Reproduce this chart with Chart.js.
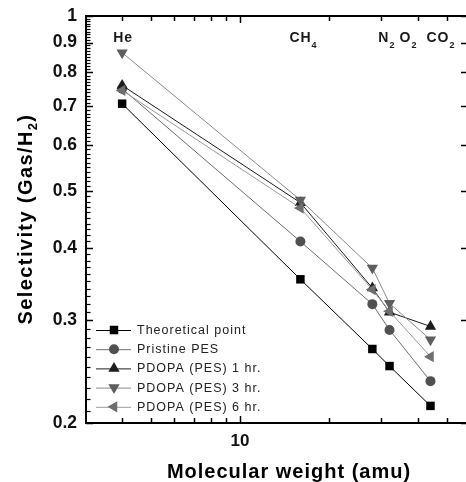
<!DOCTYPE html>
<html>
<head>
<meta charset="utf-8">
<script src="https://cdn.jsdelivr.net/npm/chart.js@4/dist/chart.umd.min.js"></script>
<style>
html,body{margin:0;padding:0;background:#fff;}
canvas{display:block;}
</style>
</head>
<body>
<canvas id="c" width="466" height="482"></canvas>
<script>
// ---- data ----
const gases = ['He', 'CH4', 'N2', 'O2', 'CO2'];
const molecularWeight = [4, 16, 28, 32, 44];
const theoretical = [0.707, 0.353, 0.268, 0.2505, 0.214];
const pristinePES = [0.75, 0.41, 0.32, 0.289, 0.236];
const pdopa1hr = [0.76, 0.478, 0.341, 0.31, 0.293];
const pdopa3hr = [0.865, 0.483, 0.369, 0.321, 0.278];
const pdopa6hr = [0.745, 0.468, 0.339, 0.311, 0.26];
const seriesNames = ['Theoretical point', 'Pristine PES', 'PDOPA (PES) 1 hr.', 'PDOPA (PES) 3 hr.', 'PDOPA (PES) 6 hr.'];
const yTickLabels = [0.2, 0.3, 0.4, 0.5, 0.6, 0.7, 0.8, 0.9, 1];
const xTickLabels = [10];
const xMinorTicks = [4, 5, 6, 7, 8, 9, 20, 30, 40, 50];

// ---- styles ----
const FONT = '"Liberation Sans", Arial, sans-serif';
const styles = [
  {point: 'rect', radius: 6, rot: 0, fill: '#000000', line: '#000000'},
  {point: 'circle', radius: 5, rot: 0, fill: '#505050', line: '#6e6e6e'},
  {point: 'triangle', radius: 6.5, rot: 0, fill: '#1c1c1c', line: '#1c1c1c'},
  {point: 'triangle', radius: 6.5, rot: 180, fill: '#5e5e5e', line: '#8a8a8a'},
  {point: 'triangle', radius: 6.5, rot: 270, fill: '#6e6e6e', line: '#9a9a9a'}
];
const allSeries = [theoretical, pristinePES, pdopa1hr, pdopa3hr, pdopa6hr];
const gasLabelOffset = [-9, -11, 6, 10, -4];

const datasets = allSeries.map((s, i) => ({
  label: seriesNames[i],
  data: s.map((v, j) => ({x: molecularWeight[j], y: v})),
  borderColor: styles[i].line,
  backgroundColor: styles[i].fill,
  pointBackgroundColor: styles[i].fill,
  pointBorderColor: styles[i].fill,
  pointBorderWidth: 0,
  pointStyle: styles[i].point,
  pointRadius: styles[i].radius,
  pointRotation: styles[i].rot,
  borderWidth: 1,
  tension: 0,
  fill: false,
  clip: false,
  order: allSeries.length - i
}));

function isLabelled(v, list) {
  return list.some(t => Math.abs(t - v) < 1e-6);
}

const customDraw = {
  id: 'customDraw',
  afterDatasetsDraw(chart) {
    const ctx = chart.ctx;
    const xs = chart.scales.x, ys = chart.scales.y;
    const a = chart.chartArea;
    ctx.save();
    // top border
    ctx.strokeStyle = '#000';
    ctx.lineWidth = 2;
    ctx.beginPath();
    ctx.moveTo(a.left - 1, a.top);
    ctx.lineTo(a.right + 2, a.top);
    ctx.stroke();
    // x ticks (bottom & top), inward
    ctx.lineWidth = 1.5;
    xs.ticks.forEach(t => {
      const px = Math.round(xs.getPixelForValue(t.value)) + 0.5;
      const len = isLabelled(t.value, xTickLabels) ? 7 : 5;
      ctx.beginPath();
      ctx.moveTo(px, a.bottom); ctx.lineTo(px, a.bottom - len);
      ctx.moveTo(px, a.top); ctx.lineTo(px, a.top + len);
      ctx.stroke();
    });
    // y ticks inward
    ys.ticks.forEach(t => {
      const py = Math.round(ys.getPixelForValue(t.value)) + 0.5;
      const major = isLabelled(t.value, yTickLabels);
      const len = major ? 7 : 4.5;
      ctx.lineWidth = major ? 1.5 : 1.2;
      ctx.beginPath();
      ctx.moveTo(a.left, py); ctx.lineTo(a.left + len, py);
      ctx.stroke();
      if (major) {
        ctx.beginPath();
        ctx.moveTo(a.right + 1, py); ctx.lineTo(a.right - 5, py);
        ctx.stroke();
      }
    });
    // gas labels
    ctx.fillStyle = '#1a1a1a';
    gases.forEach((g, i) => {
      const m = g.match(/^([A-Za-z]+)(\d*)$/);
      const main = m[1], sub = m[2];
      let x = xs.getPixelForValue(molecularWeight[i]) + gasLabelOffset[i];
      ctx.font = 'bold 14px ' + FONT;
      ctx.letterSpacing = '1px';
      ctx.textAlign = 'left';
      ctx.textBaseline = 'alphabetic';
      ctx.fillText(main, x, 42);
      x += ctx.measureText(main).width;
      if (sub) {
        ctx.font = 'bold 9px ' + FONT;
        ctx.letterSpacing = '0px';
        ctx.fillText(sub, x, 48);
      }
    });
    ctx.letterSpacing = '0px';
    // legend
    chart.data.datasets.forEach((ds, i) => {
      const y = 330 + i * 19.2;
      ctx.strokeStyle = ds.borderColor;
      ctx.lineWidth = 1;
      ctx.beginPath();
      ctx.moveTo(96, y + 0.5); ctx.lineTo(131, y + 0.5);
      ctx.stroke();
      ctx.fillStyle = ds.pointBackgroundColor;
      ctx.strokeStyle = ds.pointBorderColor;
      Chart.helpers.drawPoint(ctx, {pointStyle: ds.pointStyle, radius: ds.pointRadius, rotation: ds.pointRotation, borderWidth: 0}, 114, y);
      ctx.fillStyle = '#222';
      ctx.font = '12.5px ' + FONT;
      ctx.letterSpacing = '1px';
      ctx.textAlign = 'left';
      ctx.textBaseline = 'middle';
      ctx.fillText(ds.label, 137, y + 0.5);
      ctx.letterSpacing = '0px';
    });
    // axis titles
    ctx.fillStyle = '#000';
    ctx.font = 'bold 20px ' + FONT;
    ctx.letterSpacing = '1px';
    ctx.textAlign = 'center';
    ctx.textBaseline = 'alphabetic';
    ctx.fillText('Molecular weight (amu)', 289, 478);
    // y title with subscript
    ctx.translate(32, 219);
    ctx.rotate(-Math.PI / 2);
    const p1 = 'Selectivity (Gas/H', p2 = '2', p3 = ')';
    ctx.textAlign = 'left';
    ctx.letterSpacing = '1.4px';
    ctx.font = 'bold 20px ' + FONT;
    const w1 = ctx.measureText(p1).width, w3 = ctx.measureText(p3).width;
    ctx.font = 'bold 13px ' + FONT;
    const w2 = ctx.measureText(p2).width;
    let sx = -(w1 + w2 + w3) / 2;
    ctx.font = 'bold 20px ' + FONT;
    ctx.fillText(p1, sx, 0);
    ctx.font = 'bold 13px ' + FONT;
    ctx.fillText(p2, sx + w1, 5);
    ctx.font = 'bold 20px ' + FONT;
    ctx.fillText(p3, sx + w1 + w2, 0);
    ctx.restore();
  }
};

const yTicksAll = [];
for (let k = 20; k <= 100; k++) yTicksAll.push(k / 100);

new Chart(document.getElementById('c'), {
  type: 'line',
  data: {datasets},
  options: {
    responsive: false,
    devicePixelRatio: 1,
    animation: false,
    events: [],
    layout: {autoPadding: false, padding: {top: 16, right: 0, left: 0, bottom: 0}},
    plugins: {legend: {display: false}, tooltip: {enabled: false}, title: {display: false}},
    scales: {
      x: {
        type: 'logarithmic',
        min: 3.02,
        max: 58,
        afterBuildTicks(scale) {
          scale.ticks = xMinorTicks.concat(xTickLabels).sort((a, b) => a - b).map(v => ({value: v}));
        },
        afterFit(scale) { scale.height = 59; scale.paddingLeft = 0; scale.paddingRight = 0; },
        grid: {display: false, drawTicks: false},
        border: {display: true, color: '#000', width: 2},
        ticks: {
          autoSkip: false,
          maxRotation: 0,
          padding: 8,
          color: '#111',
          font: {family: FONT, size: 17, weight: 'bold'},
          callback: (v) => isLabelled(v, xTickLabels) ? String(v) : ''
        }
      },
      y: {
        type: 'logarithmic',
        min: 0.2,
        max: 1,
        afterBuildTicks(scale) {
          scale.ticks = yTicksAll.map(v => ({value: v}));
        },
        afterFit(scale) { scale.width = 86; scale.paddingTop = 0; scale.paddingBottom = 0; },
        grid: {display: false, drawTicks: false},
        border: {display: true, color: '#000', width: 2},
        ticks: {
          autoSkip: false,
          padding: 9,
          color: '#111',
          font: {family: FONT, size: 17.5, weight: 'bold'},
          callback: (v) => isLabelled(v, yTickLabels) ? (v === 1 ? '1' : v.toFixed(1)) : ''
        }
      }
    }
  },
  plugins: [customDraw]
});
</script>
</body>
</html>
